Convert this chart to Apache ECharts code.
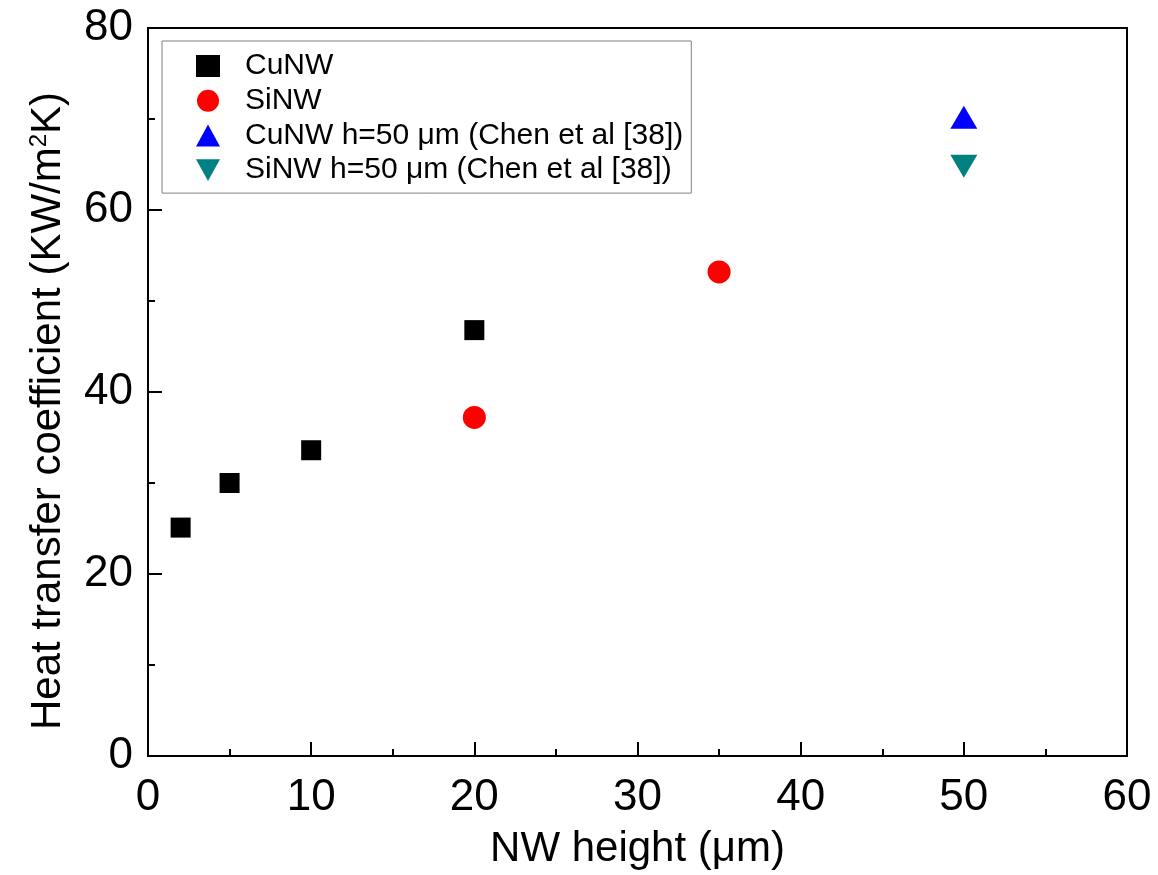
<!DOCTYPE html>
<html>
<head>
<meta charset="utf-8">
<script src="https://cdn.jsdelivr.net/npm/echarts@6/dist/echarts.min.js"></script>
<style>
  html, body { margin: 0; padding: 0; background: #fff; }
  #chart { width: 1158px; height: 875px; }
</style>
</head>
<body>
<div id="chart"></div>
<script>
// data
var seriesNames = ['CuNW', 'SiNW', 'CuNW h=50 \u03bcm (Chen et al [38])', 'SiNW h=50 \u03bcm (Chen et al [38])'];
var cuX = [2, 5, 10, 20];
var cuY = [25.1, 30.0, 33.6, 46.8];
var siX = [20, 35];
var siY = [37.2, 53.2];
var cuRefX = [50];
var cuRefY = [70.2];
var siRefX = [50];
var siRefY = [64.8];

function pairs(xs, ys) {
  return xs.map(function (x, i) { return [x, ys[i]]; });
}

var chart = echarts.init(document.getElementById('chart'));
var font = 'Liberation Sans, Arial, sans-serif';

var option = {
  animation: false,
  backgroundColor: '#fff',
  textStyle: { fontFamily: font, color: '#000' },
  grid: {
    left: 148, right: 31, top: 28, bottom: 119,
    show: true, borderColor: '#000', borderWidth: 2
  },
  legend: {
    orient: 'vertical',
    left: 162, top: 41,
    padding: [10, 8, 8, 34],
    itemGap: 4.7,
    itemWidth: 24, itemHeight: 22,
    borderColor: '#808080', borderWidth: 1,
    textStyle: { fontSize: 30, color: '#000', fontFamily: font, padding: [0, 0, 0, 20] },
    data: seriesNames
  },
  xAxis: {
    type: 'value',
    min: 0, max: 60, interval: 10,
    name: 'NW height (\u03bcm)',
    nameLocation: 'middle',
    nameGap: 72,
    nameTextStyle: { fontSize: 42, color: '#000', fontFamily: font },
    axisLine: { lineStyle: { color: '#000', width: 2 } },
    axisTick: { inside: true, length: 14, lineStyle: { color: '#000', width: 2 } },
    minorTick: { show: true, splitNumber: 2, length: 7, lineStyle: { color: '#000', width: 2 } },
    splitLine: { show: false },
    axisLabel: { fontSize: 44, color: '#000', margin: 20, fontFamily: font }
  },
  yAxis: {
    type: 'value',
    min: 0, max: 80, interval: 20,
    name: '{a|Heat transfer coefficient (KW/m}{s|2}{a|K)}',
    nameLocation: 'middle',
    nameGap: 79,
    nameTextStyle: {
      color: '#000', fontFamily: font,
      padding: [0, 38, 0, 0],
      rich: {
        a: { fontSize: 42, color: '#000', fontFamily: font },
        s: { fontSize: 24, color: '#000', fontFamily: font, verticalAlign: 'top', padding: [0, 0, 18, 0] }
      }
    },
    axisLine: { lineStyle: { color: '#000', width: 2 } },
    axisTick: { inside: true, length: 14, lineStyle: { color: '#000', width: 2 } },
    minorTick: { show: true, splitNumber: 2, length: 7, lineStyle: { color: '#000', width: 2 } },
    splitLine: { show: false },
    axisLabel: { fontSize: 44, color: '#000', margin: 15, fontFamily: font }
  },
  series: [
    {
      name: seriesNames[0], type: 'scatter',
      symbol: 'rect', symbolSize: 20,
      itemStyle: { color: '#000', opacity: 1 },
      data: pairs(cuX, cuY)
    },
    {
      name: seriesNames[1], type: 'scatter',
      symbol: 'circle', symbolSize: 23,
      itemStyle: { color: '#ff0000', opacity: 1 },
      data: pairs(siX, siY)
    },
    {
      name: seriesNames[2], type: 'scatter',
      symbol: 'triangle', symbolSize: [27, 23],
      itemStyle: { color: '#0000ff', opacity: 1 },
      data: pairs(cuRefX, cuRefY)
    },
    {
      name: seriesNames[3], type: 'scatter',
      symbol: 'path://M0,0 L10,0 L5,9 Z', symbolSize: [27, 23],
      itemStyle: { color: '#008080', opacity: 1 },
      data: pairs(siRefX, siRefY)
    }
  ]
};

chart.setOption(option);
</script>
</body>
</html>
